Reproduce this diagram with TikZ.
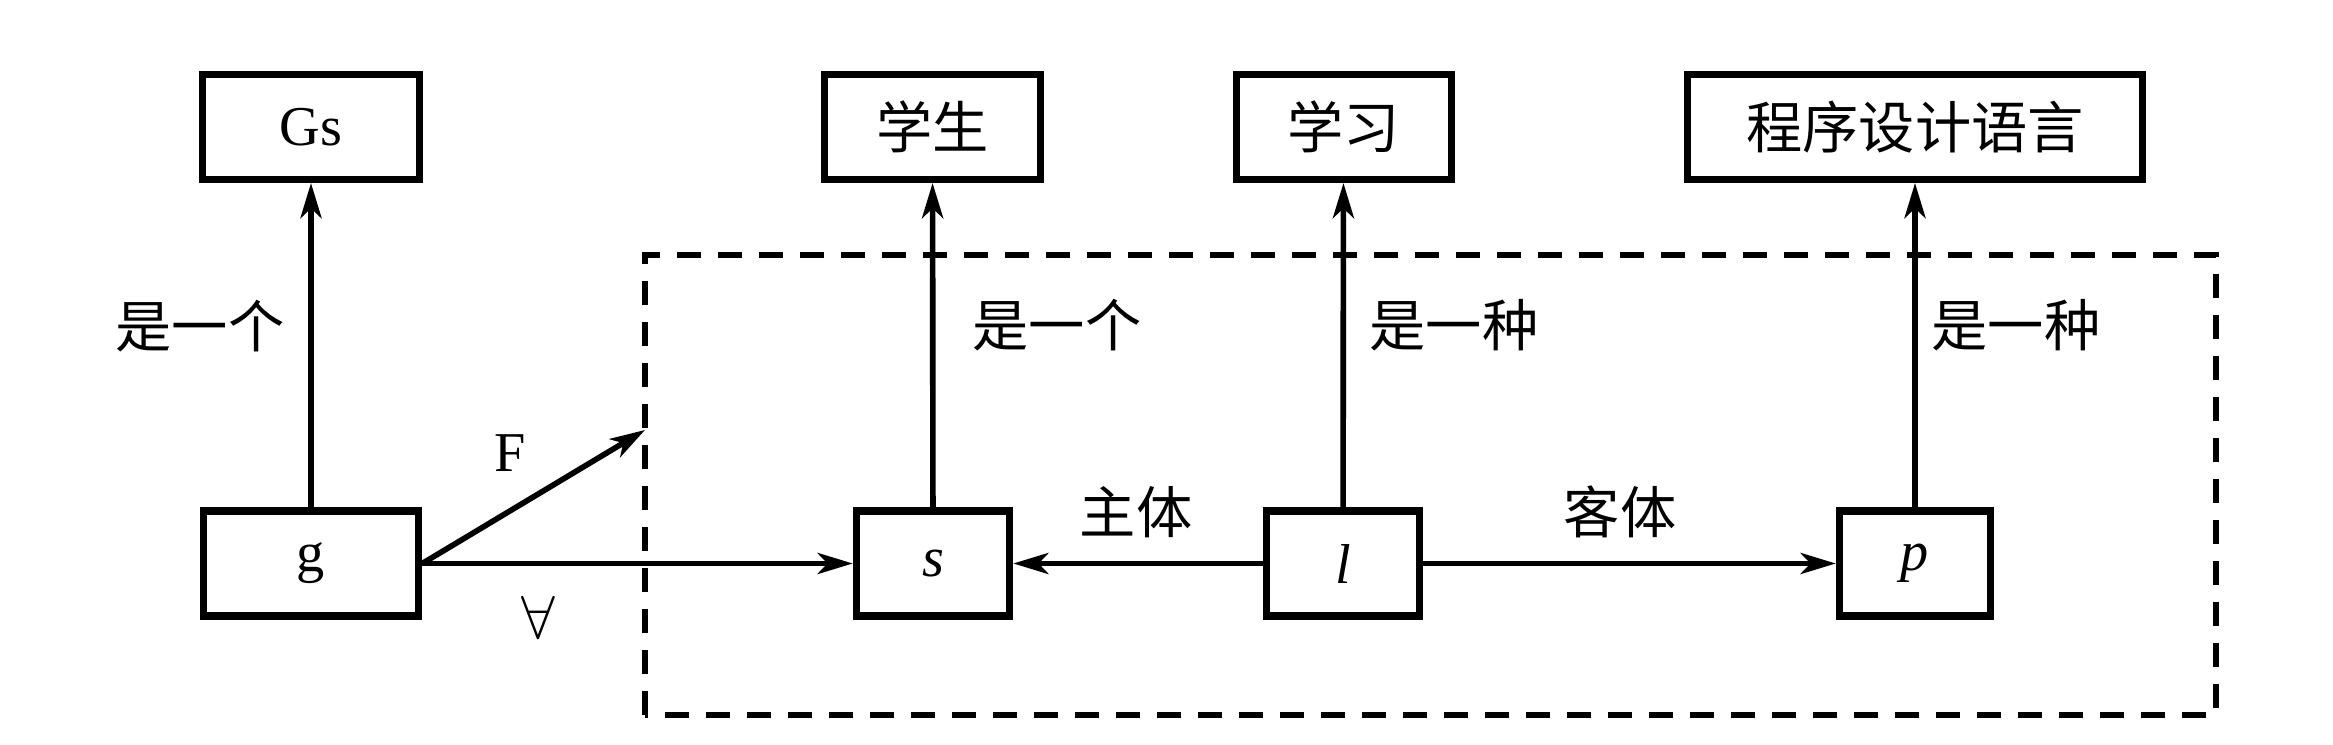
\documentclass[tikz,border=0pt]{standalone}
\usepackage{fontspec}
\setmainfont{Liberation Serif}
\newfontfamily\cjk{Noto Sans CJK SC}
\usetikzlibrary{arrows.meta,positioning}

\begin{document}
\begin{tikzpicture}[every node/.style={font=\fontsize{16}{19}\selectfont,align=center},
  box/.style={draw,line width=2pt,minimum height=1.05cm,inner sep=0pt},
  arr/.style={-{Stealth[length=10pt,width=6pt,inset=2.8pt]},line width=1.6pt},
  frame/.style={line width=1.5pt,dash pattern=on 0.24cm off 0.17cm}]
  \useasboundingbox (0,0) rectangle (23.33,7.45);
  % upper row
  \node[box,minimum width=2.175cm] (Gs) at (3.11,6.18) {Gs};
  \node[box,minimum width=2.165cm] (stu) at (9.325,6.18) {\cjk 学生};
  \node[box,minimum width=2.15cm] (learn) at (13.435,6.18) {\cjk 学习};
  \node[box,minimum width=4.555cm] (lang) at (19.15,6.18) {\cjk 程序设计语言};
  % lower row
  \node[box,minimum width=2.155cm] (g) at (3.11,1.815) {g};
  \node[box,minimum width=1.535cm] (s) at (9.33,1.815) {\textit{s}};
  \node[box,minimum width=1.535cm] (l) at (13.43,1.815) {\textit{l}};
  \node[box,minimum width=1.515cm] (p) at (19.15,1.815) {\textit{p}};
  % dashed frame
  \draw[frame] (6.45,0.30) rectangle (22.16,4.90);
  \coordinate (fend) at (6.45,3.15);
  \draw[arr] (g) -- (Gs);
  \draw[arr] (s) -- (stu);
  \draw[arr] (l) -- (learn);
  \draw[arr] (p) -- (lang);
  \draw[arr] (g.east) -- (fend);
  \draw[arr] (g) -- (s);
  \draw[arr] (l) -- (s);
  \draw[arr] (l) -- (p);
  % labels
  \node (isa1) at (2.00,4.19) {\cjk 是一个};
  \node (isa2) at (10.57,4.20) {\cjk 是一个};
  \node (kind1) at (14.54,4.20) {\cjk 是一种};
  \node (kind2) at (20.16,4.20) {\cjk 是一种};
  \node (F) at (5.10,2.92) {F};
  \node (all) at (5.38,1.28) {$\forall$};
  \node (subj) at (11.36,2.33) {\cjk 主体};
  \node (obj) at (16.20,2.33) {\cjk 客体};
\end{tikzpicture}
\end{document}
